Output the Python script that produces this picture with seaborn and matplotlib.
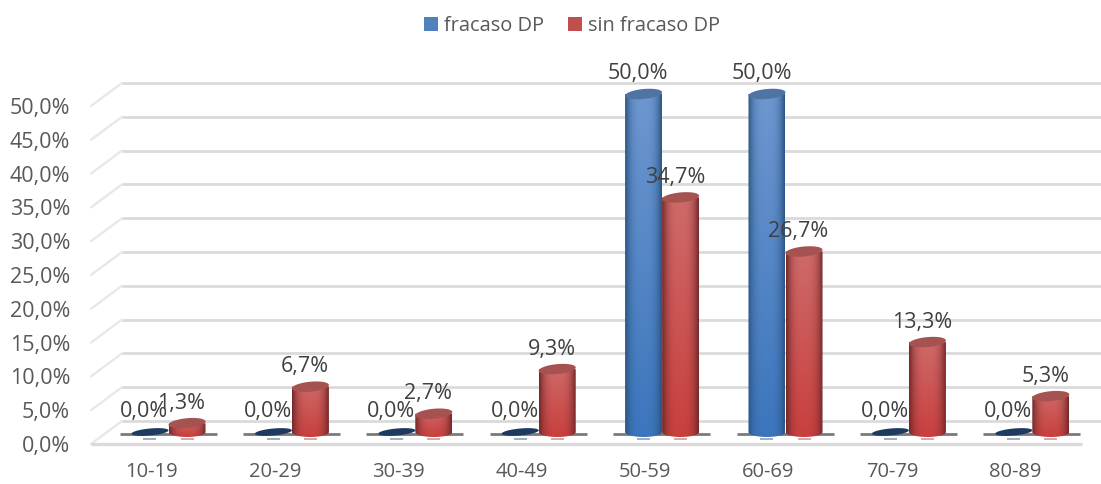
import numpy as np
import pandas as pd
import matplotlib
matplotlib.use("Agg")
import matplotlib.pyplot as plt
from matplotlib.patches import Polygon
from matplotlib.transforms import ScaledTranslation
import seaborn as sns

age_groups = ["10-19", "20-29", "30-39", "40-49", "50-59", "60-69", "70-79", "80-89"]
fracaso_dp = [0.0, 0.0, 0.0, 0.0, 50.0, 50.0, 0.0, 0.0]
sin_fracaso_dp = [1.3, 6.7, 2.7, 9.3, 34.7, 26.7, 13.3, 5.3]
series_names = ["fracaso DP", "sin fracaso DP"]
axis_ticks = [0, 5, 10, 15, 20, 25, 30, 35, 40, 45, 50]

TEXT = "#595959"
WALL = "#dadada"
FONT = "Open Sans"
W, H, DPI = 1101, 484, 100

# pixel geometry of the pseudo-3D box
PX_PER_X = 123.4
PX_PER_Y = 6.76
X0_PX = 168.5
Y0_PX = 432.0
LEFT_PX, FLOOR_PX, TOP_PX = 91.0, 444.0, 40.0
DEPTH_X, DEPTH_Y = 31.0, 23.0

sns.set_theme(style="white")
plt.rcParams["font.family"] = [FONT, "DejaVu Sans"]

fig = plt.figure(figsize=(W / DPI, H / DPI), dpi=DPI)
ax = fig.add_axes([LEFT_PX / W, 1 - FLOOR_PX / H, (W - LEFT_PX) / W, (FLOOR_PX - TOP_PX) / H])

table = pd.DataFrame({
    "edad": age_groups * 2,
    "valor": fracaso_dp + sin_fracaso_dp,
    "grupo": [series_names[0]] * len(age_groups) + [series_names[1]] * len(age_groups),
})
sns.barplot(data=table, x="edad", y="valor", hue="grupo", order=age_groups, hue_order=series_names,
            palette=["#4f81bd", "#c0504d"], width=0.6, gap=0, saturation=1, ax=ax, zorder=2, linewidth=0)

xlim = ((LEFT_PX - X0_PX) / PX_PER_X, (W - X0_PX) / PX_PER_X)
ylim = ((Y0_PX - FLOOR_PX) / PX_PER_Y, (Y0_PX - TOP_PX) / PX_PER_Y)


def dx(px):
    return px / PX_PER_X


def dy(px):
    return px / PX_PER_Y


# back wall, side wall and floor rules
for t in axis_ticks:
    ax.plot([xlim[0] + dx(DEPTH_X), xlim[1]], [t + dy(Y0_PX - 421)] * 2, color=WALL, lw=2.0,
            zorder=0, clip_on=False, solid_capstyle="butt")
    ax.plot([xlim[0], xlim[0] + dx(DEPTH_X)], [t - dy(FLOOR_PX - Y0_PX), t + dy(Y0_PX - 421)],
            color="#e8e8e8", lw=1.7, zorder=0, clip_on=False)
ax.plot([xlim[0], dx(1082 - X0_PX)], [ylim[0]] * 2, color=WALL, lw=2.4, zorder=0, clip_on=False,
        solid_capstyle="butt")

# thin dark plinth under every pair of cylinders
for i in range(len(age_groups)):
    ax.plot([i - dx(49), i + dx(48)], [-dy(1.5)] * 2, color="#7a7a7a", lw=2.0, zorder=1,
            solid_capstyle="butt")

RX, RY, TILT = 18.5, 5.0, 0.09


def cap_outline(cx, cy, ry=RY):
    t = np.linspace(0, 2 * np.pi, 80)
    ox = RX * np.cos(t)
    oy = ry * np.sin(t) + TILT * ox
    return np.column_stack([cx + dx(ox), cy + dy(oy)])


def body_outline(cx, top):
    t = np.linspace(np.pi, 2 * np.pi, 50)
    arc = np.column_stack([cx + dx(RX * np.cos(t)), dy(RY * np.sin(t))])
    return np.vstack([[cx - dx(RX), top], arc, [cx + dx(RX), top]])


def shaded(top_rgb, bottom_rgb, edge_rgb):
    v = np.linspace(0, 1, 64)[:, None, None]
    u = np.linspace(-1, 1, 48)[None, :, None]
    base = np.array(top_rgb) * (1 - v) + np.array(bottom_rgb) * v
    k = np.abs(u) ** 3.2
    return base * (1 - k) + np.array(edge_rgb) * k


to_rgb = matplotlib.colors.to_rgb
styles = [
    dict(img=shaded(to_rgb("#6e97cf"), to_rgb("#3c76bd"), to_rgb("#2b5585")), cap="#4f74a3",
         flat="#1e3a5f", mark="#8fa0b5"),
    dict(img=shaded(to_rgb("#cf6b6b"), to_rgb("#c8403e"), to_rgb("#74282a")), cap="#a65251",
         flat="#a65251", mark="#c99a9a"),
]

for s_idx, (container, values) in enumerate(zip(ax.containers, [fracaso_dp, sin_fracaso_dp])):
    st = styles[s_idx]
    for bar, value in zip(container, values):
        cx = bar.get_x() + bar.get_width() / 2
        bar.set_alpha(0)
        z = 2 + s_idx * 0.5
        if value > 0:
            im = ax.imshow(st["img"], extent=(cx - dx(RX), cx + dx(RX), -dy(RY), value + dy(RY)),
                           aspect="auto", interpolation="bilinear", zorder=z, origin="upper")
            clip = Polygon(body_outline(cx, value), closed=True, transform=ax.transData)
            im.set_clip_path(clip)
            outline = cap_outline(cx, value)
        else:
            outline = cap_outline(cx, value, ry=3.5)
        ax.add_patch(Polygon(outline, closed=True, facecolor=st["cap"] if value > 0 else st["flat"],
                             edgecolor="none", zorder=z + 0.1, clip_on=False))
        # faint reflection below the base of each cylinder
        ax.plot([cx - dx(6.5), cx + dx(6.5)], [-dy(6.5)] * 2, color=st["mark"], lw=1.2, zorder=1,
                solid_capstyle="butt", clip_on=False)
        label = f"{value:.1f}%".replace(".", ",")
        ax.annotate(label, (cx, value), xytext=(-5.5 * 72 / DPI, 20 * 72 / DPI), textcoords="offset points",
                    ha="center", va="center", fontsize=15.5, color="#404040", zorder=6, family=FONT,
                    annotation_clip=False)

ax.set_xlim(*xlim)
ax.set_ylim(*ylim)
ax.set_xlabel("")
ax.set_ylabel("")
sns.despine(ax=ax, left=True, bottom=True, top=True, right=True)

# axis labels sit on the front edge of the box
ax.set_yticks(axis_ticks)
ax.set_yticklabels([f"{t:.1f}%".replace(".", ",") for t in axis_ticks])
ax.tick_params(axis="y", length=0, pad=15, labelsize=15.5, labelcolor=TEXT)
ax.tick_params(axis="x", length=0, pad=13, labelsize=14.5, labelcolor=TEXT)
y_shift = ScaledTranslation(0, -12 / DPI, fig.dpi_scale_trans)
for lab in ax.get_yticklabels():
    lab.set_transform(lab.get_transform() + y_shift)
x_shift = ScaledTranslation(-17 / DPI, 0, fig.dpi_scale_trans)
for lab in ax.get_xticklabels():
    lab.set_transform(lab.get_transform() + x_shift)

handles, names = ax.get_legend_handles_labels()
for h, col in zip(handles, ["#4f81bd", "#c0504d"]):
    h.set_alpha(1)
    h.set_facecolor(col)
ax.legend(handles, names, loc="center", bbox_to_anchor=(572 / W, 1 - 26 / H), bbox_transform=fig.transFigure,
          ncol=2, frameon=False, fontsize=14.4, labelcolor=TEXT, handlelength=0.72, handleheight=0.72,
          handletextpad=0.3, columnspacing=1.2)

fig.savefig("out.png", dpi=DPI)
